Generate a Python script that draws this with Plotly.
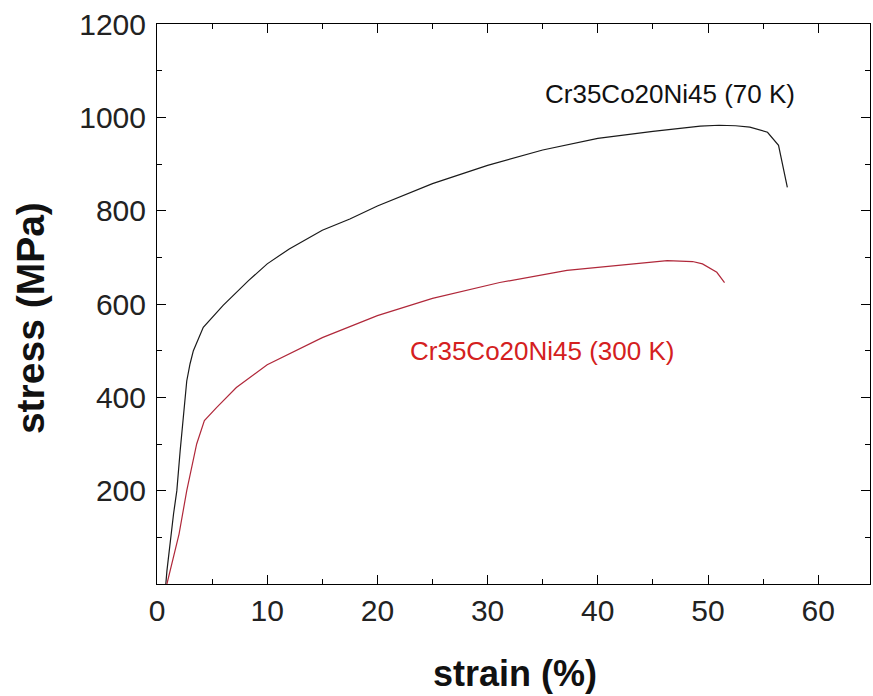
import plotly.graph_objects as go

# 70 K curve (black)
strain_70K = [0.8, 0.9, 1.5, 1.8, 2.1, 2.4, 2.7, 3.0, 3.3, 4.2, 6.0, 8.3, 10, 12, 15, 17.5,
              20, 25, 30, 35, 40, 45, 49.3, 51, 52.5, 53.8, 55.4, 56.4, 56.7, 57.2]
stress_70K = [0, 28, 150, 200, 285, 364, 435, 472, 500, 550, 597, 650, 686, 718, 758, 782,
              810, 858, 897, 930, 955, 970, 981, 983, 982, 979, 968, 940, 908, 850]

# 300 K curve (red)
strain_300K = [0.9, 1.0, 2.0, 2.7, 3.6, 4.3, 5.4, 7.2, 10, 15, 20, 25, 31.1, 37.2, 41.4,
               46.3, 48.6, 49.5, 50.8, 51.5]
stress_300K = [0, 10, 107, 200, 300, 350, 378, 421, 470, 528, 575, 612, 646, 672, 682,
               693, 691, 686, 668, 646]

x_ticks = [0, 10, 20, 30, 40, 50, 60]
y_ticks = [200, 400, 600, 800, 1000, 1200]

label_70K = "Cr35Co20Ni45 (70 K)"
label_300K = "Cr35Co20Ni45 (300 K)"
x_title = "strain (%)"
y_title = "stress (MPa)"

FONT = "Liberation Sans, Arial, sans-serif"

fig = go.Figure()
fig.add_trace(go.Scatter(x=strain_70K, y=stress_70K, mode="lines",
                         line=dict(color="#1a1a1a", width=1.2), showlegend=False))
fig.add_trace(go.Scatter(x=strain_300K, y=stress_300K, mode="lines",
                         line=dict(color="#b0283a", width=1.2), showlegend=False))

fig.add_annotation(x=46.55, y=1049, text=label_70K, showarrow=False,
                   font=dict(family=FONT, size=26, color="#111111"))
fig.add_annotation(x=34.9, y=500, text=label_300K, showarrow=False,
                   font=dict(family=FONT, size=26, color="#d42020"))

fig.add_annotation(xref="paper", yref="paper", x=0.502, y=-0.159,
                   text="<b>" + x_title + "</b>", showarrow=False,
                   font=dict(family=FONT, size=36, color="#111111"), yanchor="middle")
fig.add_annotation(xref="paper", yref="paper", x=-0.178, y=0.475,
                   text="<b>" + y_title + "</b>", showarrow=False, textangle=-90,
                   font=dict(family=FONT, size=39, color="#111111"),
                   xanchor="center", yanchor="middle")

axis_common = dict(showline=True, linecolor="black", linewidth=1, mirror="allticks",
                   ticks="inside", ticklen=9, tickcolor="black", showgrid=False,
                   zeroline=False, tickfont=dict(family=FONT, size=30, color="#222222"))

fig.update_xaxes(range=[0, 64.7], tickvals=x_ticks,
                 minor=dict(ticks="inside", ticklen=5, dtick=5, tickcolor="black"),
                 **axis_common)
fig.update_yaxes(range=[0, 1200], tickvals=y_ticks, ticklabelstandoff=4,
                 minor=dict(ticks="inside", ticklen=5, dtick=100, tickcolor="black"),
                 **axis_common)

fig.update_layout(width=873, height=696, margin=dict(l=157, r=3, t=24, b=112),
                  paper_bgcolor="white", plot_bgcolor="white",
                  font=dict(family=FONT))

fig.write_html("out.html")
